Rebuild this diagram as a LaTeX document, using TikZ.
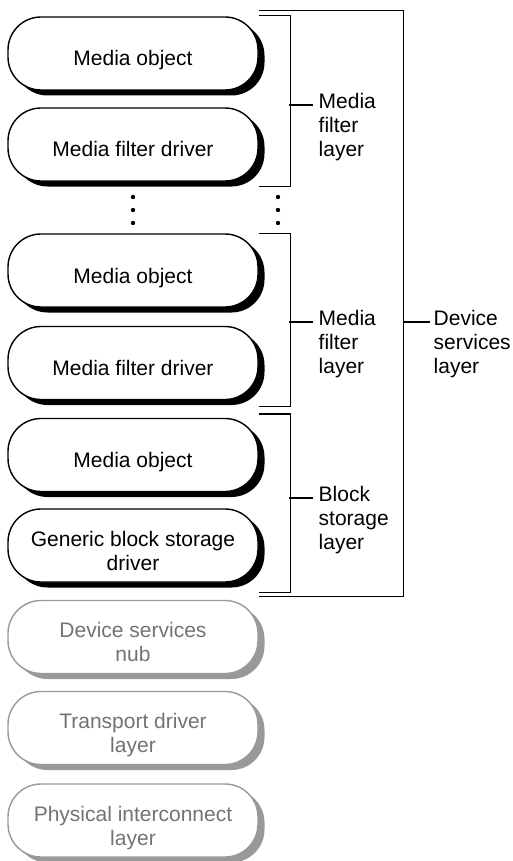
\documentclass[tikz,border=0pt]{standalone}
\usepackage{fontspec}
\setmainfont{Liberation Sans}
\usetikzlibrary{shadows}

\begin{document}
\begin{tikzpicture}[x=1pt, y=-1pt,
    pillbase/.style={draw, line width=1.4pt, fill=white, rounded corners=33pt,
      minimum width=250pt, minimum height=73pt, align=center,
      font=\fontsize{21}{24}\selectfont, text depth=0pt, text height=25pt},
    pill/.style={pillbase,
      drop shadow={shadow xshift=6.5pt, shadow yshift=-5.5pt, fill=black, opacity=1}},
    greypill/.style={pillbase, draw=black!40, text=black!55, text height=49pt,
      drop shadow={shadow xshift=6.5pt, shadow yshift=-5.5pt, fill=black!40, opacity=1}},
    bracket/.style={line width=1.4pt},
    lbl/.style={anchor=north west, inner sep=0pt, align=left,
      font=\fontsize{21}{24}\selectfont}]
  \useasboundingbox (0,0) rectangle (513,861);

  % stack of layers
  \node[pill] (mo1) at (133,53.5) {Media object};
  \node[pill] (mfd1) at (133,144.5) {Media filter driver};
  \node[pill] (mo2) at (133,270.5) {Media object};
  \node[pill] (mfd2) at (133,363) {Media filter driver};
  \node[pill] (mo3) at (133,455) {Media object};
  \node[pill, text height=49pt] (gbsd) at (133,545.5) {Generic block storage\\driver};
  \node[greypill] (nub) at (133,637) {Device services\\nub};
  \node[greypill] (tdl) at (133,728) {Transport driver\\layer};
  \node[greypill] (pil) at (133,820.5) {Physical interconnect\\layer};

  % dots between the filter layers
  \foreach \y in {197,210,223} {
    \fill (133,\y) circle (2.2pt);
    \fill (278,\y) circle (2.2pt);
  }

  % brackets
  \draw[bracket] ([yshift=1pt]mo1.north east) -- ++(32,0) |- ([yshift=-5pt]mfd1.south east);
  \draw[bracket] (mo2.north east) -- ++(32,0) |- ([yshift=-6pt]mfd2.south east);
  \draw[bracket] ([yshift=4pt]mo3.north east) -- ++(32,0) |- ([yshift=-10pt]gbsd.south east);
  \draw[bracket] ([yshift=6pt]mo1.north east) -- ++(145,0) |- ([yshift=-14pt]gbsd.south east);

  % labels
  \node[lbl] (mfl1) at (318.5,92.7) {Media\\filter\\layer};
  \node[lbl] (mfl2) at (318.5,309.7) {Media\\filter\\layer};
  \node[lbl] (bsl) at (318.5,485.7) {Block\\storage\\layer};
  \node[lbl] (dsl) at (433.5,309.7) {Device\\services\\layer};
  \draw[bracket] ([xshift=-5.5pt,yshift=-12.3pt]mfl1.north west) -- ++(-24,0);
  \draw[bracket] ([xshift=-5.5pt,yshift=-12.3pt]mfl2.north west) -- ++(-24,0);
  \draw[bracket] ([xshift=-5.5pt,yshift=-12.3pt]bsl.north west) -- ++(-24,0);
  \draw[bracket] ([xshift=-3.5pt,yshift=-12.3pt]dsl.north west) -- ++(-27,0);
\end{tikzpicture}
\end{document}
